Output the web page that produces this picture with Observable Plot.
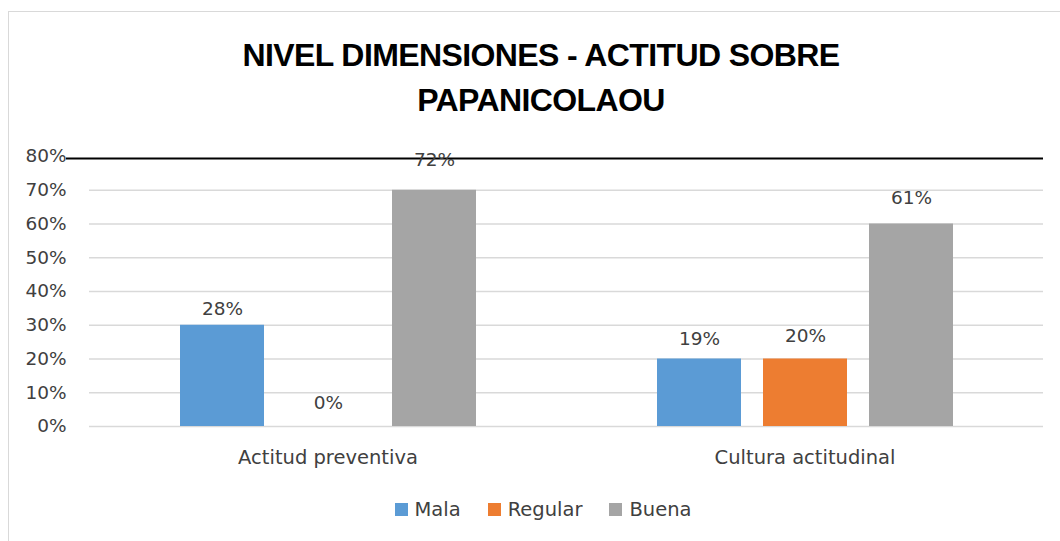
<!DOCTYPE html>
<html>
<head>
<meta charset="utf-8">
<script src="https://cdn.jsdelivr.net/npm/d3@7"></script>
<script src="https://cdn.jsdelivr.net/npm/@observablehq/plot@0.6"></script>
<style>
  html, body { margin: 0; padding: 0; background: #fff; width: 1060px; height: 541px; overflow: hidden; }
  #frame { position: absolute; left: 8px; top: 11px; width: 1100px; height: 600px;
           border-left: 1.5px solid #d9d9d9; border-top: 1.5px solid #d9d9d9; }
  #title { position: absolute; left: 0; top: 33px; width: 1082px; text-align: center;
           font-family: "Liberation Sans", sans-serif; font-weight: bold;
           font-size: 32px; line-height: 45px; color: #000; letter-spacing: -0.6px; }
  #chart { position: absolute; left: 0; top: 130px; }
  #legend { position: absolute; left: 0; top: 498px; width: 1086px; display: flex; justify-content: center;
            gap: 27px; font-family: "DejaVu Sans", sans-serif; font-size: 19.5px; color: #404040; }
  #legend span.item { display: inline-flex; align-items: center; }
  #legend span.sw { display: inline-block; width: 13px; height: 13px; margin-right: 7px; }
  #chart svg g[aria-label="fx-axis tick label"] text { font-size: 19.5px; }
</style>
</head>
<body>
<div id="frame"></div>
<div id="title">NIVEL DIMENSIONES - ACTITUD SOBRE<br>PAPANICOLAOU</div>
<div id="chart"></div>
<div id="legend"></div>
<script>
const categories = ["Actitud preventiva", "Cultura actitudinal"];
const seriesNames = ["Mala", "Regular", "Buena"];
const seriesColors = ["#5B9BD5", "#ED7D31", "#A5A5A5"];
// bar heights as drawn
const malaBar = [0.30, 0.20];
const regularBar = [0.00, 0.20];
const buenaBar = [0.70, 0.60];
// data labels as printed
const malaLabel = [0.28, 0.19];
const regularLabel = [0.00, 0.20];
const buenaLabel = [0.72, 0.61];
const yTicks = [0, 0.1, 0.2, 0.3, 0.4, 0.5, 0.6, 0.7, 0.8];
const gridTicks = [0, 0.1, 0.2, 0.3, 0.4, 0.5, 0.6, 0.7];
const topLine = [0.8];

const bars = [malaBar, regularBar, buenaBar];
const labels = [malaLabel, regularLabel, buenaLabel];
const data = [];
categories.forEach((c, i) => {
  seriesNames.forEach((s, j) => {
    data.push({category: c, series: s, bar: bars[j][i], label: labels[j][i]});
  });
});
const pct = d3.format(".0%");

const chart = Plot.plot({
  width: 1060,
  height: 346,
  marginTop: 26,
  marginBottom: 50,
  marginLeft: 89,
  marginRight: 17,
  style: {fontFamily: "DejaVu Sans, sans-serif", fontSize: "18.5px", color: "#404040", background: "transparent"},
  fx: {domain: categories, padding: 0, label: null, tickSize: 0, tickPadding: 24, axis: "bottom"},
  x: {domain: seriesNames, axis: null, paddingInner: 0.21, paddingOuter: 0.85},
  y: {domain: [0, 0.8], ticks: yTicks, tickFormat: pct, tickSize: 0, tickPadding: 23, label: null},
  color: {domain: seriesNames, range: seriesColors},
  marks: [
    Plot.ruleY(gridTicks, {stroke: "#d9d9d9", strokeWidth: 1.3}),
    Plot.ruleY([{c: categories[0], v: topLine[0]}], {fx: "c", y: "v", stroke: "#000", strokeWidth: 2, insetLeft: -23, dy: 2}),
    Plot.ruleY([{c: categories[1], v: topLine[0]}], {fx: "c", y: "v", stroke: "#000", strokeWidth: 2, dy: 2}),
    Plot.barY(data, {fx: "category", x: "series", y: "bar", fill: "series"}),
    Plot.text(data, {fx: "category", x: "series", y: "label", text: d => pct(d.label), dy: -23, fill: "#404040"})
  ]
});
document.getElementById("chart").appendChild(chart);

const legend = document.getElementById("legend");
seriesNames.forEach((s, i) => {
  const item = document.createElement("span");
  item.className = "item";
  const sw = document.createElement("span");
  sw.className = "sw";
  sw.style.background = seriesColors[i];
  item.appendChild(sw);
  item.appendChild(document.createTextNode(s));
  legend.appendChild(item);
});
</script>
</body>
</html>
